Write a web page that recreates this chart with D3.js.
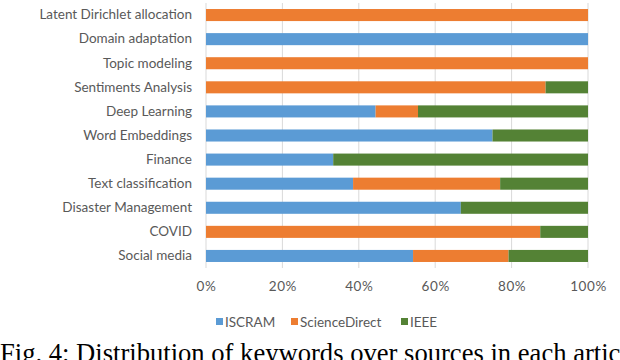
<!DOCTYPE html>
<html><head><meta charset="utf-8">
<script src="https://cdn.jsdelivr.net/npm/d3@7"></script>
<style>html,body{margin:0;padding:0;background:#fff;overflow:hidden}</style>
</head><body>
<svg id="chart" width="620" height="360"></svg>
<script>
const categories = ["Latent Dirichlet allocation","Domain adaptation","Topic modeling","Sentiments Analysis","Deep Learning","Word Embeddings","Finance","Text classification","Disaster Management","COVID","Social media"];
const seriesNames = ["ISCRAM","ScienceDirect","IEEE"];
const iscram =        [0, 100, 0, 0, 44.4, 75, 33.3, 38.5, 66.7, 0, 54.2];
const scienceDirect = [100, 0, 100, 88.9, 11.1, 0, 0, 38.5, 0, 87.5, 25.0];
const ieee =          [0, 0, 0, 11.1, 44.5, 25, 66.7, 23.0, 33.3, 12.5, 20.8];
const tickValues = [0, 20, 40, 60, 80, 100];
const colors = ["#5B9BD5", "#ED7D31", "#548235"];
const caption = "Fig. 4: Distribution of keywords over sources in each article";

const svg = d3.select("#chart");
const rows = categories.map((c, i) => ({cat: c, ISCRAM: iscram[i], ScienceDirect: scienceDirect[i], IEEE: ieee[i]}));
const stack = d3.stack().keys(seriesNames)(rows);

const x = d3.scaleLinear().domain([0, 100]).range([206, 588]);
const y = d3.scaleBand().domain(categories).range([3, 268]).paddingInner(0.5).paddingOuter(0.25);
const color = d3.scaleOrdinal().domain(seriesNames).range(colors);
const font = "Lato, 'Open Sans', sans-serif";
const fs = "13.5px";

// gridlines
svg.append("g").selectAll("line").data(tickValues).join("line")
  .attr("x1", d => x(d)).attr("x2", d => x(d))
  .attr("y1", 3).attr("y2", 268)
  .attr("stroke", "#d9d9d9").attr("stroke-width", 1);

// bars
svg.append("g").selectAll("g").data(stack).join("g")
  .attr("fill", d => color(d.key))
  .selectAll("rect").data(d => d).join("rect")
  .attr("x", d => x(d[0]))
  .attr("width", d => Math.max(0, x(d[1]) - x(d[0])))
  .attr("y", d => y(d.data.cat))
  .attr("height", y.bandwidth());

// y axis labels
const yAxis = d3.axisLeft(y).tickSize(0).tickPadding(14);
const gy = svg.append("g").attr("transform", `translate(${x(0)},0)`).call(yAxis);
gy.select(".domain").remove();
gy.selectAll("text").attr("fill", "#595959").style("font-family", font).style("font-size", fs);

// x axis labels
const xAxis = d3.axisBottom(x).tickValues(tickValues).tickFormat(d => d + "%").tickSize(0).tickPadding(0);
const gx = svg.append("g").attr("transform", `translate(0,281)`).call(xAxis);
gx.select(".domain").remove();
gx.selectAll("text").attr("fill", "#595959").style("font-family", font).style("font-size", fs)
  .style("letter-spacing", "0.6px");

// legend
const legendX = [216, 291, 401];
const lg = svg.append("g").selectAll("g").data(seriesNames).join("g")
  .attr("transform", (d, i) => `translate(${legendX[i]},322)`);
lg.append("rect").attr("x", 0).attr("y", -4).attr("width", 7).attr("height", 7).attr("fill", d => color(d));
lg.append("text").attr("x", 9).attr("y", 0).attr("dy", "0.35em")
  .attr("fill", "#595959").style("font-family", font).style("font-size", fs).text(d => d);

// caption
svg.append("text").attr("x", 0).attr("y", 362)
  .style("font-family", "'Liberation Serif', 'Times New Roman', serif").style("font-size", "26.6px")
  .attr("fill", "#000").text(caption);
</script>
</body></html>
